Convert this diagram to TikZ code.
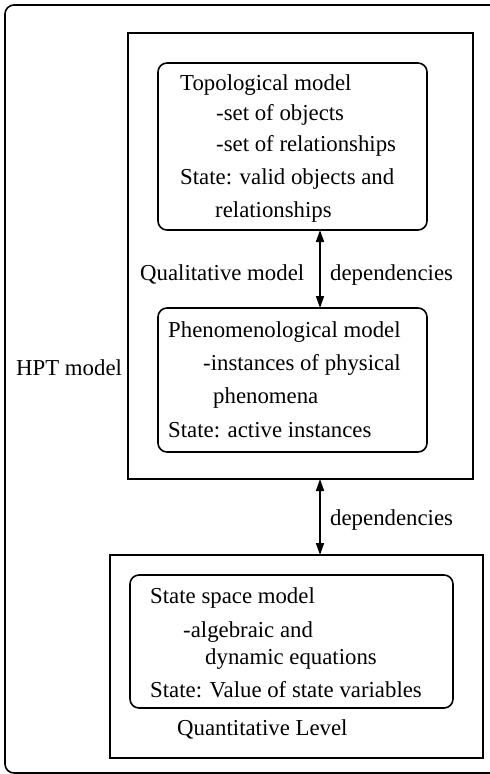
\documentclass[tikz,border=0pt]{standalone}
\usepackage{fontspec}
\setmainfont{Liberation Serif}
\usetikzlibrary{arrows.meta}
\begin{document}
\begin{tikzpicture}[x=1pt,y=-1pt,
  frame/.style={draw, line width=1.6pt, rectangle, inner sep=0pt, outer sep=0pt, anchor=north west},
  roundbox/.style={frame, rounded corners=9pt},
  txt/.style={anchor=base west, inner sep=0pt, font=\fontsize{22.8}{27}\selectfont},
  dep/.style={line width=1.6pt, {Triangle[length=12pt,width=8pt]}-{Triangle[length=12pt,width=8pt]}}]
\useasboundingbox (0,0) rectangle (490,774);
\begin{scope}
\clip (0,0) rectangle (490,774);
% outer HPT frame (runs past the right edge)
\node[roundbox, minimum width=498pt, minimum height=768pt] (hpt) at (5,5) {};
\end{scope}
% qualitative level
\node[frame, minimum width=345pt, minimum height=446pt] (qual) at (128,33) {};
\node[roundbox, minimum width=269pt, minimum height=167pt] (topo) at (158,63) {};
\node[roundbox, minimum width=269pt, minimum height=144pt] (phen) at (158,308) {};
% quantitative level
\node[frame, minimum width=373pt, minimum height=203pt] (quan) at (110,555) {};
\node[roundbox, minimum width=323pt, minimum height=133pt] (ssm) at (130,575) {};

% topological model text
\node[txt] (t1) at (180,90) {Topological model};
\node[txt] (t2) at (216,120) {-set of objects};
\node[txt] (t3) at (216,151) {-set of relationships};
\node[txt] (t4) at (180,184) {State: valid objects and};
\node[txt] (t5) at (215,217) {relationships};

% phenomenological model text
\node[txt] (p1) at (168,337) {Phenomenological model};
\node[txt] (p2) at (203,370) {-instances of physical};
\node[txt] (p3) at (213,403) {phenomena};
\node[txt] (p4) at (168,437) {State: active instances};

% state space model text
\node[txt] (s1) at (150,603) {State space model};
\node[txt] (s2) at (183,637) {-algebraic and};
\node[txt] (s3) at (205,664) {dynamic equations};
\node[txt] (s4) at (150,697) {State: Value of state variables};

% level labels
\node[txt] (lq) at (140,280) {Qualitative model};
\node[txt] (lh) at (16,375) {HPT model};
\node[txt] (ln) at (177,735) {Quantitative Level};
\node[txt] (d1) at (330,280) {dependencies};
\node[txt] (d2) at (330,525) {dependencies};

% dependency arrows
\coordinate (ax) at (320,0);
\draw[dep] (topo.south -| ax) -- (phen.north -| ax);
\draw[dep] (qual.south -| ax) -- (quan.north -| ax);
\end{tikzpicture}
\end{document}
